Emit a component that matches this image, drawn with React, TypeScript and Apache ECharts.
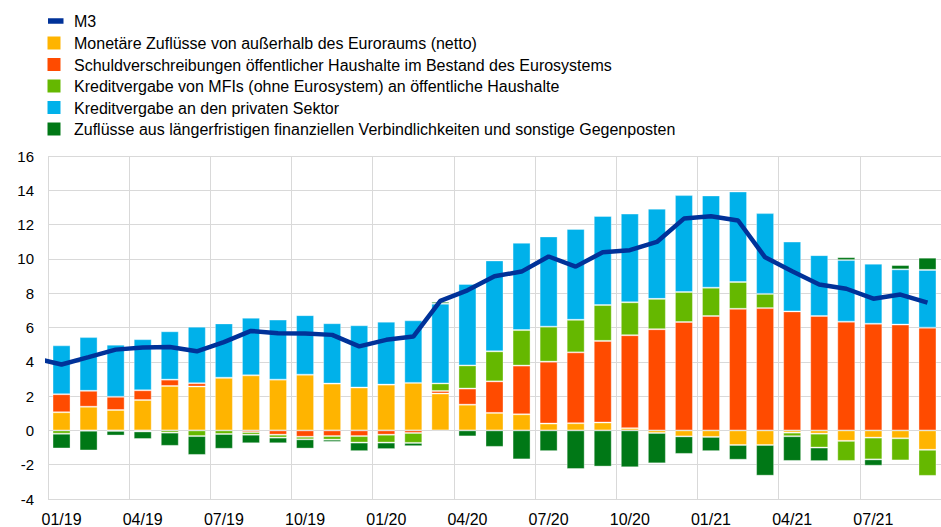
import React, { useEffect, useRef } from "react";
import * as echarts from "echarts";

const months = [
  "01/19","02/19","03/19","04/19","05/19","06/19","07/19","08/19","09/19","10/19","11/19","12/19",
  "01/20","02/20","03/20","04/20","05/20","06/20","07/20","08/20","09/20","10/20","11/20","12/20",
  "01/21","02/21","03/21","04/21","05/21","06/21","07/21","08/21","09/21",
];

const seriesNames = [
  "M3",
  "Monetäre Zuflüsse von außerhalb des Euroraums (netto)",
  "Schuldverschreibungen öffentlicher Haushalte im Bestand des Eurosystems",
  "Kreditvergabe von MFIs (ohne Eurosystem) an öffentliche Haushalte",
  "Kreditvergabe an den privaten Sektor",
  "Zuflüsse aus längerfristigen finanziellen Verbindlichkeiten und sonstige Gegenposten",
];

const colors = ["#003299", "#FFB400", "#FF4B00", "#65B800", "#00B1EA", "#007816"];

const netExternal = [
  1.06, 1.38, 1.19, 1.77, 2.59, 2.56, 3.07, 3.21, 2.96, 3.25, 2.73, 2.50,
  2.67, 2.77, 2.15, 1.50, 1.02, 0.94, 0.40, 0.42, 0.46, 0.13, -0.15, -0.35,
  -0.38, -0.85, -0.85, -0.13, -0.19, -0.61, -0.42, -0.46, -1.13,
];
const eurosystemBonds = [
  1.05, 0.93, 0.77, 0.57, 0.37, 0.19, 0, -0.10, -0.25, -0.37, -0.33, -0.33,
  -0.25, -0.15, 0.15, 0.94, 1.84, 2.84, 3.61, 4.13, 4.76, 5.42, 5.90, 6.32,
  6.67, 7.09, 7.13, 6.94, 6.67, 6.34, 6.22, 6.17, 5.99,
];
const mfiGovCredit = [
  -0.19, -0.02, -0.03, -0.06, -0.13, -0.33, -0.21, -0.15, -0.17, -0.15, -0.21, -0.38,
  -0.46, -0.58, 0.44, 1.35, 1.75, 2.07, 2.04, 1.90, 2.09, 1.92, 1.77, 1.75,
  1.65, 1.56, 0.83, -0.21, -0.81, -1.17, -1.27, -1.29, -1.52,
];
const privateCredit = [
  2.85, 3.13, 3.04, 2.98, 2.82, 3.30, 3.17, 3.36, 3.50, 3.47, 3.52, 3.63,
  3.67, 3.65, 4.65, 4.75, 5.30, 5.09, 5.26, 5.30, 5.19, 5.17, 5.26, 5.65,
  5.38, 5.28, 4.71, 4.07, 3.55, 3.59, 3.50, 3.22, 3.37,
];
const longerTermOther = [
  -0.86, -1.15, -0.27, -0.44, -0.77, -1.10, -0.86, -0.50, -0.33, -0.54, -0.13, -0.50,
  -0.38, -0.19, 0.11, -0.35, -0.96, -1.69, -1.21, -2.25, -2.11, -2.15, -1.77, -1.02,
  -0.83, -0.86, -1.79, -1.44, -0.79, 0.17, -0.37, 0.25, 0.71,
];
// M3 growth; m3Prev is 12/18 (just left of the plotted window)
const m3Prev = 4.22;
const m3 = [
  3.84, 4.27, 4.71, 4.84, 4.86, 4.61, 5.15, 5.80, 5.67, 5.65, 5.57, 4.90,
  5.28, 5.47, 7.55, 8.17, 8.99, 9.26, 10.14, 9.55, 10.39, 10.51, 10.99, 12.35,
  12.49, 12.24, 10.09, 9.28, 8.51, 8.26, 7.68, 7.92, 7.45,
];

const FONT = "'Liberation Sans', Arial, Helvetica, sans-serif";

export default function App() {
  const ref = useRef<HTMLDivElement>(null);

  useEffect(() => {
    if (!ref.current) return;
    const chart = echarts.init(ref.current, undefined, { renderer: "svg" });

    const barSets = [netExternal, eurosystemBonds, mfiGovCredit, privateCredit, longerTermOther];
    const barSeries = barSets.map((d, i) => ({
      name: seriesNames[i + 1],
      type: "bar",
      stack: "total",
      xAxisIndex: 0,
      yAxisIndex: 0,
      barWidth: 18,
      data: d,
      itemStyle: {
        color: colors[i + 1],
        borderColor: "rgba(255,255,255,0.35)",
        borderWidth: 1,
      },
      z: 2,
    }));

    const lineData: number[][] = [[-1, m3Prev]].concat(m3.map((v, i) => [i, v]));

    const rowY = [21, 43, 64.5, 86, 107.5, 129];
    const legendGraphics: any[] = [];
    seriesNames.forEach((name, i) => {
      if (i === 0) {
        legendGraphics.push({
          type: "rect",
          shape: { x: 48, y: rowY[i] - 2.75, width: 15.5, height: 5.5 },
          style: { fill: colors[i] },
        });
      } else {
        legendGraphics.push({
          type: "rect",
          shape: { x: 47.5, y: rowY[i] - 6.5, width: 13, height: 13 },
          style: { fill: colors[i] },
        });
      }
      legendGraphics.push({
        type: "text",
        x: 74,
        y: rowY[i] + 0.5,
        style: {
          text: name,
          fill: "#000",
          font: `16px ${FONT}`,
          verticalAlign: "middle",
          align: "left",
        },
      });
    });

    chart.setOption({
      animation: false,
      backgroundColor: "#fff",
      textStyle: { fontFamily: FONT },
      graphic: legendGraphics,
      grid: { left: 48, top: 156, height: 347, width: 33 * 27.37, containLabel: false },
      xAxis: [
        {
          type: "category",
          data: months,
          boundaryGap: true,
          axisLine: { show: false, onZero: false },
          axisTick: { show: false },
          axisLabel: {
            interval: 2,
            margin: 12,
            color: "#000",
            fontSize: 16,
            fontFamily: FONT,
          },
          splitLine: {
            show: true,
            interval: 2,
            lineStyle: { color: "#d9d9d9", width: 1 },
          },
        },
        {
          type: "value",
          min: -0.5,
          max: 32.5,
          show: false,
          splitLine: { show: false },
        },
      ],
      yAxis: {
        type: "value",
        min: -4,
        max: 16,
        interval: 2,
        axisLine: { show: false },
        axisTick: { show: false },
        axisLabel: { margin: 14, color: "#000", fontSize: 15, fontFamily: FONT },
        splitLine: { show: true, lineStyle: { color: "#d9d9d9", width: 1 } },
      },
      series: [
        ...barSeries,
        {
          name: seriesNames[0],
          type: "line",
          xAxisIndex: 1,
          yAxisIndex: 0,
          data: lineData,
          symbol: "none",
          clip: true,
          lineStyle: { color: colors[0], width: 4.5 },
          z: 5,
        },
      ],
    });

    return () => chart.dispose();
  }, []);

  return (
    <div
      ref={ref}
      style={{ position: "fixed", left: 0, top: 0, width: 941, height: 527, background: "#fff" }}
    />
  );
}
